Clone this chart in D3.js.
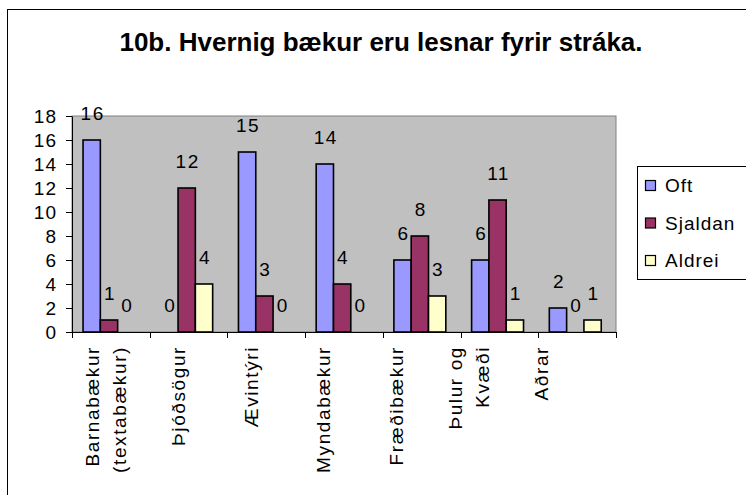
<!DOCTYPE html>
<html>
<head>
<meta charset="utf-8">
<script src="https://cdn.jsdelivr.net/npm/d3@7"></script>
<style>
  body { margin: 0; background: #fff; }
  text { font-family: Arial, "Liberation Sans", sans-serif; fill: #000; }
</style>
</head>
<body>
<div id="chart"></div>
<script>
const categories = ["Barnabækur\n(textabækur)", "Þjóðsögur", "Ævintýri", "Myndabækur", "Fræðibækur", "Þulur og\nKvæði", "Aðrar"];
const seriesNames = ["Oft", "Sjaldan", "Aldrei"];
const oft = [16, 0, 15, 14, 6, 6, 2];
const sjaldan = [1, 12, 3, 4, 8, 11, 0];
const aldrei = [0, 4, 0, 0, 3, 1, 1];
const yTicks = [0, 2, 4, 6, 8, 10, 12, 14, 16, 18];
const colors = ["#9999FF", "#993366", "#FFFFCC"];

const seriesValues = [oft, sjaldan, aldrei];

var width = 746, height = 495;
var plot = {left: 72, right: 616, top: 116, bottom: 332};

var svg = d3.select("#chart").append("svg")
    .attr("width", width)
    .attr("height", height);

svg.append("rect")
    .attr("width", width).attr("height", height)
    .attr("fill", "#fff");

// outer chart border (runs off the right and bottom edges)
svg.append("rect")
    .attr("x", 7.5).attr("y", 9.5)
    .attr("width", 800).attr("height", 600)
    .attr("fill", "none").attr("stroke", "#000");

svg.append("text")
    .attr("x", 381).attr("y", 51)
    .attr("text-anchor", "middle")
    .style("font-size", "26px")
    .style("font-weight", "bold")
    .text("10b. Hvernig bækur eru lesnar fyrir stráka.");

var x0 = d3.scaleBand()
    .domain(categories)
    .range([plot.left, plot.right]);

var bw = x0.bandwidth();
var x1 = d3.scaleBand()
    .domain(seriesNames)
    .range([bw * 0.142, bw * 0.81]);

var y = d3.scaleLinear()
    .domain([0, 18])
    .range([plot.bottom, plot.top]);

// plot area
svg.append("rect")
    .attr("x", plot.left).attr("y", plot.top)
    .attr("width", plot.right - plot.left)
    .attr("height", plot.bottom - plot.top)
    .attr("fill", "#C0C0C0")
    .attr("stroke", "#808080");

// y axis
var yAxis = svg.append("g")
    .attr("transform", "translate(" + plot.left + ",0)")
    .call(d3.axisLeft(y).tickValues(yTicks).tickSize(6).tickPadding(9).tickSizeOuter(0));
yAxis.selectAll("text")
    .style("font-size", "19px")
    .style("letter-spacing", "1px")
    .style("font-family", "Arial, 'Liberation Sans', sans-serif");
yAxis.select(".domain").attr("stroke", "#000");

// x axis line and ticks at category boundaries
svg.append("line")
    .attr("x1", plot.left).attr("x2", plot.right)
    .attr("y1", plot.bottom + 0.5).attr("y2", plot.bottom + 0.5)
    .attr("stroke", "#000");
var bounds = categories.map(c => x0(c)).concat([plot.right]);
svg.selectAll(".xtick")
    .data(bounds)
    .enter().append("line")
    .attr("class", "xtick")
    .attr("x1", d => Math.round(d) + 0.5).attr("x2", d => Math.round(d) + 0.5)
    .attr("y1", plot.bottom).attr("y2", plot.bottom + 6)
    .attr("stroke", "#000");

// bars
var groups = svg.selectAll(".grp")
    .data(categories)
    .enter().append("g")
    .attr("class", "grp")
    .attr("transform", d => "translate(" + x0(d) + ",0)");

groups.each(function(cat, ci) {
    var g = d3.select(this);
    var rows = seriesNames.map((s, si) => ({s: s, si: si, v: seriesValues[si][ci]}));
    g.selectAll("rect")
        .data(rows.filter(d => d.v > 0))
        .enter().append("rect")
        .attr("x", d => x1(d.s))
        .attr("y", d => y(d.v))
        .attr("width", x1.bandwidth())
        .attr("height", d => y(0) - y(d.v))
        .attr("fill", d => colors[d.si])
        .attr("stroke", "#000")
        .attr("stroke-width", 1.6);
    g.selectAll("text")
        .data(rows)
        .enter().append("text")
        .attr("x", d => x1(d.s) + x1.bandwidth() / 2 + 1)
        .attr("y", d => y(d.v) - 20)
        .attr("text-anchor", "middle")
        .style("font-size", "19px")
        .style("letter-spacing", "1.5px")
        .text(d => d.v);
});

// category labels (rotated); Excel spaces them a bit tighter than the bands
var xl = d3.scalePoint()
    .domain(categories)
    .range([106, 541]);

var labels = svg.selectAll(".xlab")
    .data(categories)
    .enter().append("g")
    .attr("class", "xlab")
    .attr("transform", d => "translate(" + xl(d) + ",346) rotate(-90)");

labels.each(function(d) {
    var lines = d.split("\n");
    var lh = 27;
    d3.select(this).selectAll("text")
        .data(lines)
        .enter().append("text")
        .attr("x", 0)
        .attr("y", (l, i) => (i - (lines.length - 1) / 2) * lh)
        .attr("dy", "0.35em")
        .attr("text-anchor", "end")
        .style("font-size", "19px")
        .style("letter-spacing", "1.6px")
        .text(l => l);
});

// legend
var legend = svg.append("g");
legend.append("rect")
    .attr("x", 637.5).attr("y", 166.5)
    .attr("width", 200).attr("height", 113)
    .attr("fill", "#fff")
    .attr("stroke", "#000");

var items = legend.selectAll(".item")
    .data(seriesNames)
    .enter().append("g")
    .attr("class", "item")
    .attr("transform", (d, i) => "translate(645," + (185 + i * 37.5) + ")");
items.append("rect")
    .attr("x", 0.5).attr("y", -4.5)
    .attr("width", 10).attr("height", 10)
    .attr("fill", (d, i) => colors[i])
    .attr("stroke", "#000")
    .attr("stroke-width", 1.2);
items.append("text")
    .attr("x", 20).attr("y", 7)
    .style("font-size", "19px")
    .style("letter-spacing", "1px")
    .text(d => d);
</script>
</body>
</html>
